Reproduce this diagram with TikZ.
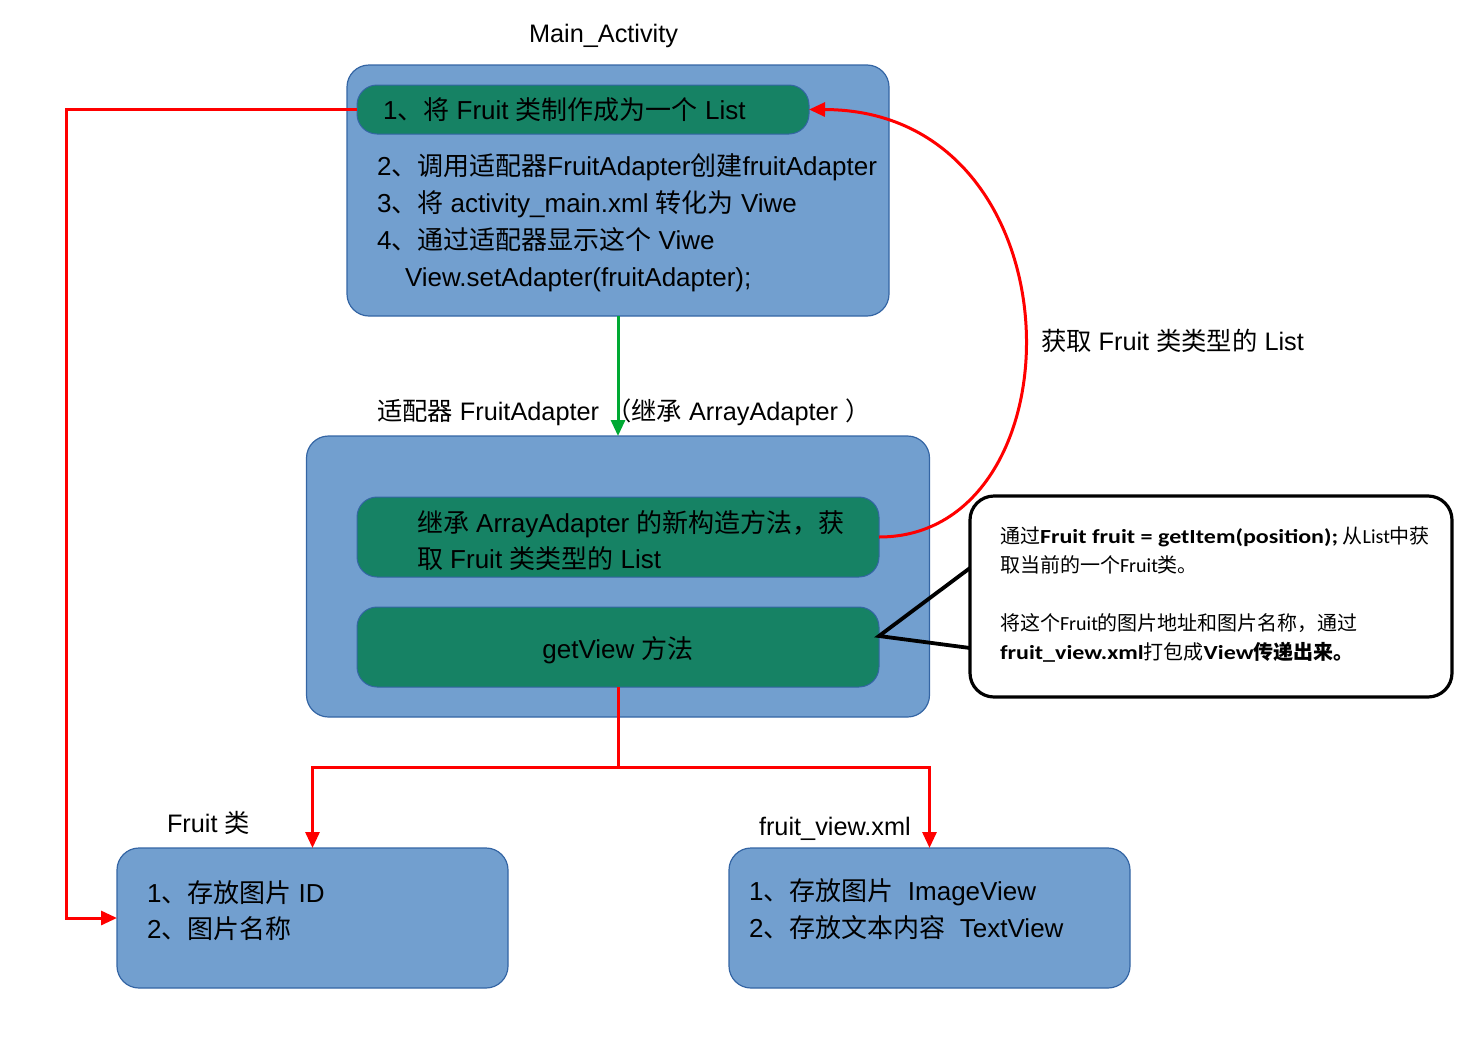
\documentclass[tikz,border=0pt]{standalone}
\usepackage{fontspec}
\setmainfont{Liberation Sans}
\newfontfamily\zhfont{Noto Sans CJK SC}
\newfontfamily\calfont{Carlito}[BoldFeatures={FakeStretch=1.2}]
\usetikzlibrary{arrows.meta}
\newcommand{\zh}[1]{{\zhfont #1}}
\newcommand{\bigtxt}{\fontsize{26}{30}\selectfont}
\newcommand{\labtxt}{\fontsize{25.3}{30}\selectfont}
\newcommand{\caltxt}{\calfont\fontsize{20}{24}\selectfont}
\definecolor{boxblue}{RGB}{114,159,207}
\definecolor{boxedge}{RGB}{52,101,164}
\definecolor{greenbox}{RGB}{22,130,100}
\definecolor{arrgreen}{RGB}{0,169,51}
\definecolor{arrred}{RGB}{255,0,0}
\begin{document}
\begin{tikzpicture}[x=1pt,y=-1pt,
  every node/.style={inner sep=0pt, outer sep=0pt},
  bluebox/.style={draw=boxedge, fill=boxblue, line width=1.2pt, rounded corners=22pt},
  greenpill/.style={draw=boxedge, fill=greenbox, line width=1pt, rounded corners=20pt},
  txt/.style={anchor=base west, font=\bigtxt},
  labtext/.style={anchor=base west, font=\labtxt},
  caltext/.style={anchor=base west, font=\caltxt},
  redline/.style={draw=arrred, line width=3pt},
  redarrow/.style={redline, -{Triangle[length=16pt,width=14pt]}},
  greenarrow/.style={draw=arrgreen, line width=3pt, -{Triangle[length=16pt,width=14pt]}},
  pointer/.style={draw=black, line width=3.8pt, line join=miter}
]
\useasboundingbox (0,0) rectangle (1475,1047);

% boxes
\node[bluebox, minimum width=542pt, minimum height=251pt] (main) at (618,190.5) {};
\node[greenpill, minimum width=452pt, minimum height=49pt] (g1) at (583,109.5) {};
\node[bluebox, minimum width=623pt, minimum height=281pt] (adapter) at (618,576.5) {};
\node[greenpill, minimum width=522pt, minimum height=80pt] (g2) at (618,537) {};
\node[greenpill, minimum width=522pt, minimum height=80pt] (g3) at (618,647) {};
\node[bluebox, minimum width=391pt, minimum height=140pt] (fruit) at (312.5,918) {};
\node[bluebox, minimum width=401pt, minimum height=140pt] (xml) at (929.5,918) {};
\node[draw=black, fill=white, line width=3.2pt, rounded corners=24pt,
      minimum width=482pt, minimum height=201pt] (callout) at (1211,596.5) {};

% labels
\node[labtext] (tmain) at (529,42) {Main\_Activity};
\node[txt] (l1) at (383,119) {1\zh{、将} Fruit \zh{类制作成为一个} List};
\node[txt] (l2) at (377,175) {2\zh{、调用适配器}FruitAdapter\zh{创建}fruitAdapter};
\node[txt] (l3) at (377,212) {3\zh{、将} activity\_main.xml \zh{转化为} Viwe};
\node[txt] (l4) at (377,249) {4\zh{、通过适配器显示这个} Viwe};
\node[txt] (l5) at (405,286) {View.setAdapter(fruitAdapter);};

\node[labtext] (tadapter) at (377,420) {\zh{适配器} FruitAdapter \zh{（继承} ArrayAdapter \zh{）}};
\node[txt] (g2a) at (417,532) {\zh{继承} ArrayAdapter \zh{的新构造方法，获}};
\node[txt] (g2b) at (417,568) {\zh{取} Fruit \zh{类类型的} List};
\node[font=\bigtxt, anchor=base] (g3t) at (618,658) {getView \zh{方法}};

\node[labtext] (tget) at (1041,350) {\zh{获取} Fruit \zh{类类型的} List};

\node[caltext] (c1) at (1000,543) {\zh{通过}\textbf{Fruit fruit = getItem(position);} \zh{从}List\zh{中获}};
\node[caltext] (c2) at (1000,572) {\zh{取当前的一个}Fruit\zh{类。}};
\node[caltext] (c3) at (1000,630) {\zh{将这个}Fruit\zh{的图片地址和图片名称，通过}};
\node[caltext] (c4) at (1000,659) {\textbf{fruit\_view.xml}\zh{打包成}\textbf{View\zh{传递出来。}}};

\node[labtext] (tfruit) at (167,832) {Fruit \zh{类}};
\node[txt] (f1) at (147,902) {1\zh{、存放图片} ID};
\node[txt] (f2) at (147,938) {2\zh{、图片名称}};

\node[labtext] (txml) at (759,835) {fruit\_view.xml};
\node[txt] (x1) at (749,900) {1\zh{、存放图片}\ \ ImageView};
\node[txt] (x2) at (749,937) {2\zh{、存放文本内容}\ \ TextView};

% connectors
\draw[greenarrow] (main.south) -- (adapter.north);
\draw[redarrow] (g2.east) .. controls (1084,537) and (1084,110) .. (g1.east);

\coordinate (lcorner) at (66,109.5);
\draw[redarrow] (g1.west) -- (lcorner) |- (fruit.west);

\coordinate (split) at (618,767);
\draw[redline] (g3.south) -- (split);
\draw[redarrow] (split) -| (fruit.north);
\draw[redarrow] (split) -| (xml.north);

\coordinate (tip) at (879,636);
\draw[pointer] ([yshift=28.5pt]callout.west) -- (tip) -- ([yshift=-51.5pt]callout.west);
\end{tikzpicture}
\end{document}
